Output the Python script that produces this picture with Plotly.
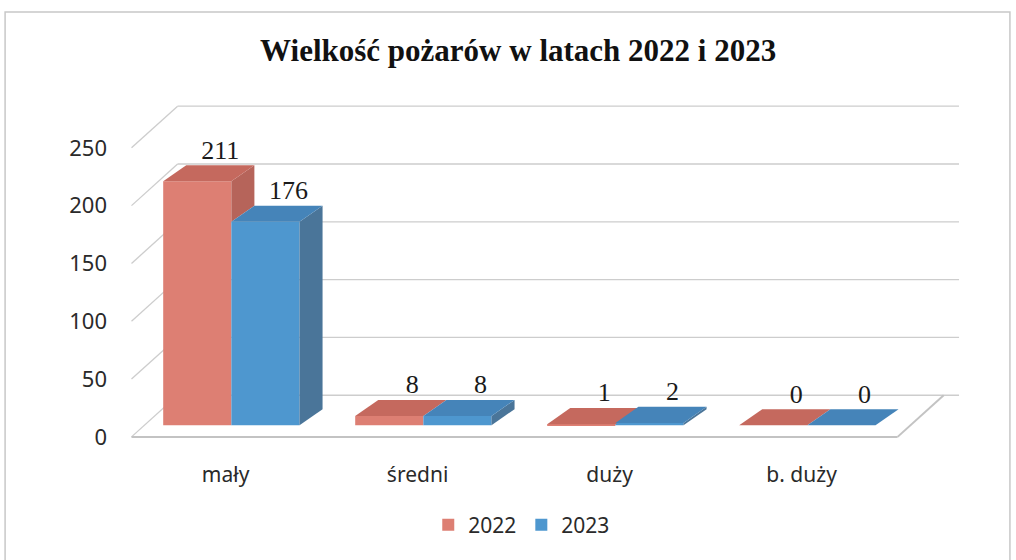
import plotly.graph_objects as go

# ---- data ----
categories = ["mały", "średni", "duży", "b. duży"]
years = ["2022", "2023"]
values_2022 = [211, 8, 1, 0]
values_2023 = [176, 8, 2, 0]
y_ticks = [0, 50, 100, 150, 200, 250]
title_text = "Wielkość pożarów w latach 2022 i 2023"

# ---- style ----
front_colors = {"2022": "#DD7F73", "2023": "#4E97CF"}
top_colors = {"2022": "#C5695E", "2023": "#4584B9"}
side_colors = {"2022": "#B6645A", "2023": "#4A7599"}
grid_color = "rgb(205,205,205)"
bar_w = 0.355
base = 10          # bars stand on the middle of the floor
dx, dy = 0.12, 14  # bar depth (x units, y units)
wdx, wdy = 0.24, 36  # wall / floor depth
x_left, x_right = -0.49, 3.5

xs = list(range(len(categories)))
series = {"2022": values_2022, "2023": values_2023}
offsets = {"2022": -bar_w + 0.03, "2023": 0.03}

fig = go.Figure()

# front faces
for yr in years:
    fig.add_trace(go.Bar(
        x=xs, y=series[yr], base=base, name=yr,
        width=bar_w, offset=offsets[yr],
        marker=dict(color=front_colors[yr], line=dict(width=0)),
    ))

def poly(xp, yp, color):
    fig.add_trace(go.Scatter(
        x=xp + [xp[0]], y=yp + [yp[0]], mode="lines", fill="toself",
        fillcolor=color, line=dict(width=0, color=color),
        hoverinfo="skip", showlegend=False,
    ))

# depth faces, drawn back-to-front per category
for i, xc in enumerate(xs):
    v22, v23 = values_2022[i], values_2023[i]
    t22 = base + v22
    t23 = base + v23
    # 2022
    x0 = xc + offsets["2022"]
    x1 = x0 + bar_w
    if v22 > v23:
        poly([x1, x1, x1 + dx, x1 + dx], [t23, t22, t22 + dy, t23 + dy], side_colors["2022"])
    poly([x0, x1, x1 + dx, x0 + dx], [t22, t22, t22 + dy, t22 + dy], top_colors["2022"])
    # 2023
    x0 = xc + offsets["2023"]
    x1 = x0 + bar_w
    poly([x1, x1, x1 + dx, x1 + dx], [base, t23, t23 + dy, base + dy], side_colors["2023"])
    poly([x0, x1, x1 + dx, x0 + dx], [t23, t23, t23 + dy, t23 + dy], top_colors["2023"])

# data labels
for yr in years:
    vals = series[yr]
    fig.add_trace(go.Scatter(
        x=[xc + offsets[yr] + bar_w / 2 + 0.12 for xc in xs],
        y=[base + v + dy for v in vals],
        text=[str(v) for v in vals], mode="text", textposition="top center",
        textfont=dict(family="Liberation Serif", size=26, color="#1a1a1a"),
        hoverinfo="skip", showlegend=False,
    ))

# walls / floor / gridlines
shapes = []
line = dict(color=grid_color, width=1.3)
for t in y_ticks:
    shapes.append(dict(type="line", xref="x", yref="y", x0=x_left, y0=t,
                       x1=x_left + wdx, y1=t + wdy, line=line, layer="below"))
    shapes.append(dict(type="line", xref="x", yref="y", x0=x_left + wdx, y0=t + wdy,
                       x1=x_right + wdx + 0.08, y1=t + wdy, line=line, layer="below"))
floor_line = dict(color="rgb(195,195,195)", width=2)
shapes.append(dict(type="line", xref="x", yref="y", x0=x_left, y0=0, x1=x_right, y1=0,
                   line=floor_line, layer="below"))
shapes.append(dict(type="line", xref="x", yref="y", x0=x_right, y0=0,
                   x1=x_right + wdx, y1=wdy, line=floor_line, layer="below"))
# outer chart border
shapes.append(dict(type="rect", xref="paper", yref="paper", x0=-0.133, y0=-0.3,
                   x1=1.03, y1=1.211, line=dict(color="rgb(200,200,200)", width=1.5),
                   layer="below"))

fig.update_layout(
    width=1016, height=560,
    margin=dict(l=120, r=32, t=90, b=100),
    paper_bgcolor="white", plot_bgcolor="white",
    barmode="overlay",
    shapes=shapes,
    title=dict(text="<b>" + title_text + "</b>", x=0.51, xanchor="center",
               y=1 - 50 / 560, yanchor="middle", yref="container",
               font=dict(family="Liberation Serif", size=31, color="#111111")),
    xaxis=dict(range=[-0.55, 3.95], tickvals=xs, ticktext=categories,
               showgrid=False, zeroline=False, showline=False,
               tickfont=dict(family="Noto Sans", size=21, color="#2a2a2a")),
    yaxis=dict(range=[-20, 300], tickvals=y_ticks, showgrid=False, zeroline=False,
               showline=False, ticklabelstandoff=12,
               tickfont=dict(family="Noto Sans", size=22, color="#2a2a2a")),
    legend=dict(orientation="h", x=0.465, xanchor="center", y=-0.176, yanchor="middle",
                font=dict(family="Noto Sans", size=21, color="#2a2a2a"),
                itemwidth=30, tracegroupgap=0),
)

fig.write_html("out.html", config={"displayModeBar": False},
               post_script="document.body.style.margin='0';")
